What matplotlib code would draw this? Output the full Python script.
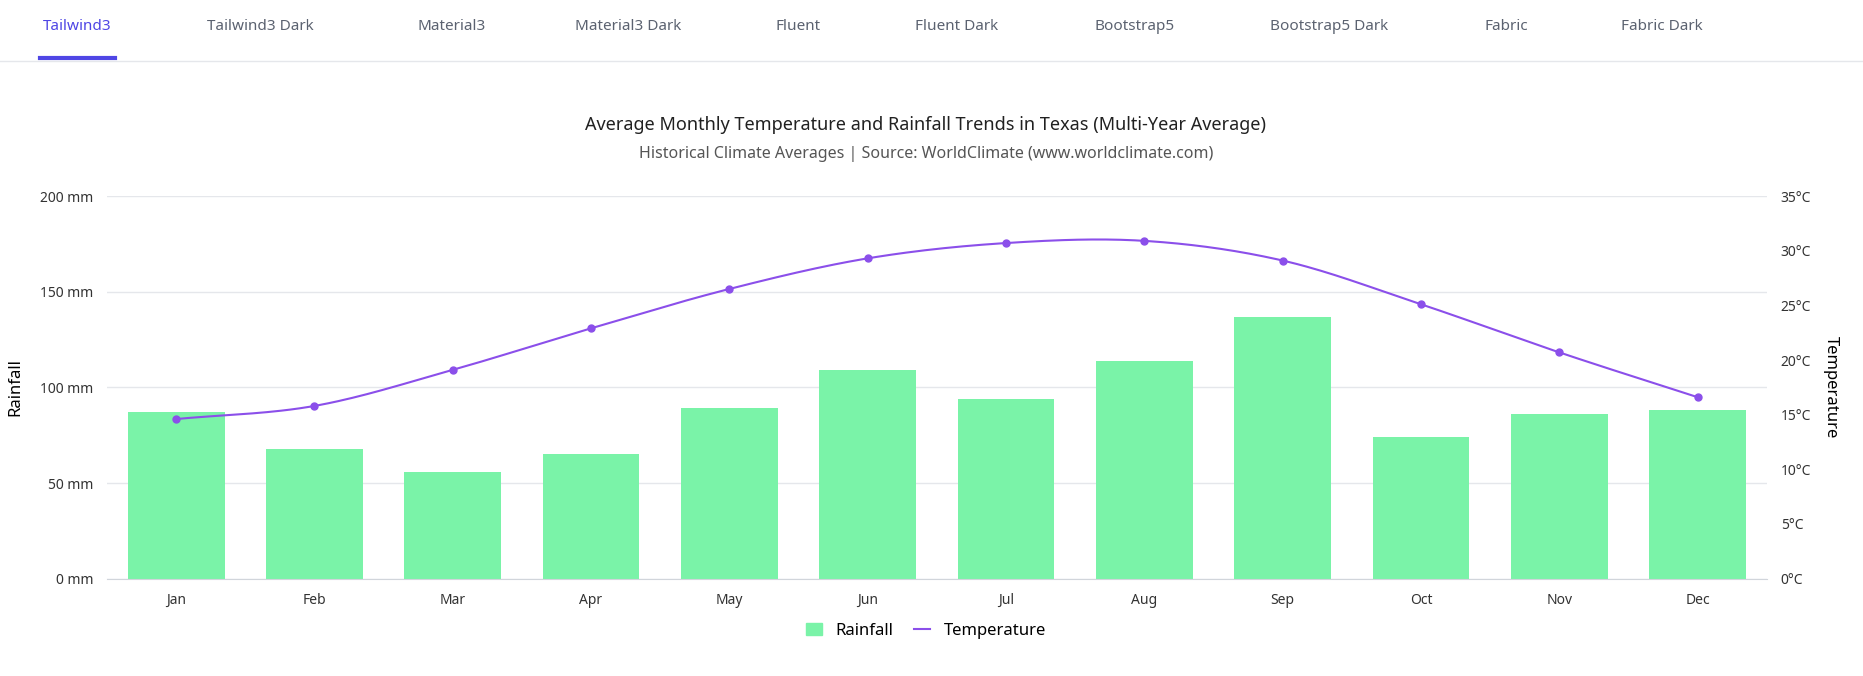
import numpy as np
import matplotlib
matplotlib.use("Agg")
from matplotlib import pyplot as plt
from matplotlib.lines import Line2D
from matplotlib.patches import Patch

months = ['Jan', 'Feb', 'Mar', 'Apr', 'May', 'Jun', 'Jul', 'Aug', 'Sep', 'Oct', 'Nov', 'Dec']
rainfall = [87, 68, 56, 65, 89, 109, 94, 114, 137, 74, 86, 88]
temperature = [14.6, 15.8, 19.1, 22.9, 26.5, 29.3, 30.7, 30.9, 29.1, 25.1, 20.7, 16.6]
tabs = ['Tailwind3', 'Tailwind3 Dark', 'Material3', 'Material3 Dark', 'Fluent',
        'Fluent Dark', 'Bootstrap5', 'Bootstrap5 Dark', 'Fabric', 'Fabric Dark']
tab_x = [65, 219, 380, 529, 672, 805, 955, 1119, 1268, 1399]

BAR = '#7AF3A8'
LINE = '#8B4FEA'
W = 1568.0

plt.rcParams['font.family'] = ['Noto Sans', 'DejaVu Sans']


def smooth(x, y, n=30):
    # catmull-rom spline through the points
    x = np.asarray(x, float); y = np.asarray(y, float)
    px = np.r_[2*x[0]-x[1], x, 2*x[-1]-x[-2]]
    py = np.r_[2*y[0]-y[1], y, 2*y[-1]-y[-2]]
    xs, ys = [], []
    t = np.linspace(0, 1, n)
    for i in range(1, len(px) - 2):
        for p, out in ((px, xs), (py, ys)):
            p0, p1, p2, p3 = p[i-1:i+3]
            out.extend(0.5*((2*p1) + (-p0+p2)*t + (2*p0-5*p1+4*p2-p3)*t**2
                            + (-p0+3*p1-3*p2+p3)*t**3))
    return np.array(xs), np.array(ys)


fig = plt.figure(figsize=(18.63, 6.76), dpi=100)

for name, xp in zip(tabs, tab_x):
    fig.text(xp / W, 1 - 22 / 569, name, ha='center', va='center', fontsize=11,
             color='#4F46E5' if name == 'Tailwind3' else '#5B6270', weight='semibold')
fig.add_artist(Line2D([0, 1], [1 - 51 / 569] * 2, color='#E5E7EB', lw=1))
fig.add_artist(Line2D([34 / W, 97 / W], [1 - 49 / 569] * 2, color='#4F46E5', lw=3))

fig.text(0.497, 1 - 105 / 569, 'Average Monthly Temperature and Rainfall Trends in Texas (Multi-Year Average)',
         ha='center', va='center', fontsize=13, weight='semibold', color='#212121')
fig.text(0.497, 1 - 130 / 569, 'Historical Climate Averages | Source: WorldClimate (www.worldclimate.com)',
         ha='center', va='center', fontsize=11.5, color='#555555')

ax = fig.add_axes([90 / W, 0.144, (1487 - 90) / W, 0.566])
x = np.arange(len(months))
ax.bar(x, rainfall, width=0.7, color=BAR, zorder=2)
ax.set_ylim(0, 200)
ax.set_xlim(-0.5, 11.5)
ax.set_yticks([0, 50, 100, 150, 200])
ax.set_yticklabels([f'{v} mm' for v in [0, 50, 100, 150, 200]])
ax.set_xticks(x)
ax.set_xticklabels(months)
ax.grid(axis='y', color='#E5E7EB', lw=1, zorder=0)
for s in ax.spines.values():
    s.set_visible(False)
ax.spines['bottom'].set_visible(True)
ax.spines['bottom'].set_color('#D1D5DB')
ax.tick_params(length=0, labelsize=10, colors='#333333', pad=10)
ax.set_ylabel('Rainfall', fontsize=12, weight='bold', labelpad=12)

ax2 = ax.twinx()
ax2.set_ylim(0, 35)
ax2.set_yticks(range(0, 36, 5))
ax2.set_yticklabels([f'{v}°C' for v in range(0, 36, 5)])
for s in ax2.spines.values():
    s.set_visible(False)
ax2.tick_params(length=0, labelsize=10, colors='#333333', pad=10)
ax2.set_ylabel('Temperature', fontsize=12, weight='bold', rotation=270, labelpad=20)
sx, sy = smooth(x, temperature)
ax2.plot(sx, sy, color=LINE, lw=1.5, zorder=3)
ax2.plot(x, temperature, 'o', color=LINE, ms=5, zorder=4)

handles = [Patch(color=BAR, label='Rainfall'),
           Line2D([], [], color=LINE, lw=1.5, label='Temperature')]
fig.legend(handles=handles, loc='center', bbox_to_anchor=(0.497, 1 - 531 / 569), ncol=2,
           frameon=False, fontsize=12, handlelength=1.0, columnspacing=1.2)

fig.savefig('out.png', dpi=100, facecolor='white')
